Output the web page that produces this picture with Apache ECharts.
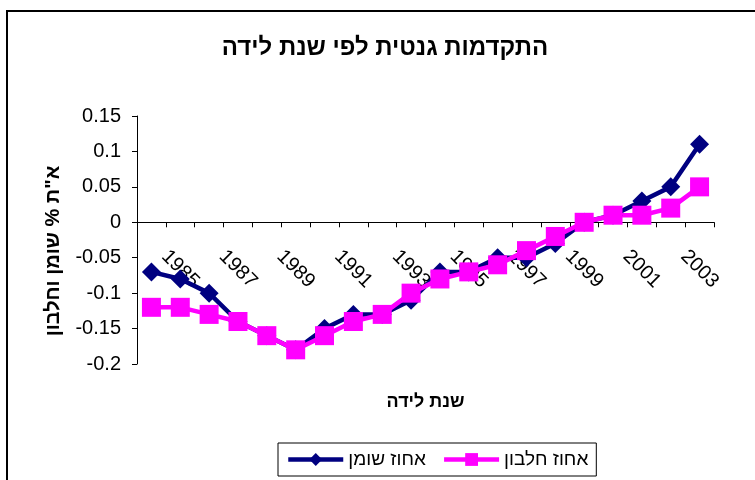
<!DOCTYPE html>
<html>
<head>
<meta charset="utf-8">
<script src="https://cdn.jsdelivr.net/npm/echarts@6/dist/echarts.min.js"></script>
<style>
html,body{margin:0;padding:0;background:#fff;}
#c{width:755px;height:480px;}
</style>
</head>
<body>
<div id="c"></div>
<script>
const years = ['1984','1985','1986','1987','1988','1989','1990','1991','1992','1993','1994','1995','1996','1997','1998','1999','2000','2001','2002','2003'];
const fatValues = [-0.07,-0.08,-0.10,-0.14,-0.16,-0.18,-0.15,-0.13,-0.13,-0.11,-0.07,-0.07,-0.05,-0.05,-0.03,0.00,0.01,0.03,0.05,0.11];
const proteinValues = [-0.12,-0.12,-0.13,-0.14,-0.16,-0.18,-0.16,-0.14,-0.13,-0.10,-0.08,-0.07,-0.06,-0.04,-0.02,0.00,0.01,0.01,0.02,0.05];
const seriesNames = ['אחוז שומן','אחוז חלבון'];
const titleText = 'התקדמות גנטית לפי שנת לידה';
const xTitle = 'שנת לידה';
const yTitle = 'א"ת % שומן וחלבון';

const font = '"Liberation Sans", Arial, sans-serif';
const chart = echarts.init(document.getElementById('c'), null, {renderer:'canvas'});
chart.setOption({
  backgroundColor:'#fff',
  animation:false,
  graphic:[{type:'rect', shape:{x:7, y:11, width:800, height:520}, style:{fill:'none', stroke:'#000', lineWidth:2}, silent:true}],
  title:{text:titleText, left:380, textAlign:'center', top:31, textStyle:{fontFamily:font, fontSize:24, fontWeight:'bold', color:'#000'}},
  grid:{left:137, right:41, top:116, bottom:116, containLabel:false, outerBoundsMode:'none'},
  legend:{
    data:seriesNames, left:278, top:443, orient:'horizontal',
    borderColor:'#000', borderWidth:1, padding:[7,8], itemGap:16,
    itemWidth:55, itemHeight:16,
    lineStyle:{width:4.5},
    textStyle:{fontFamily:font, fontSize:19, color:'#000'}
  },
  xAxis:{
    type:'category', data:years, boundaryGap:true,
    name:xTitle, nameLocation:'middle', nameGap:29,
    nameTextStyle:{fontFamily:font, fontSize:18, fontWeight:'bold', color:'#000'},
    axisLine:{onZero:true, lineStyle:{color:'#000', width:1}},
    axisTick:{show:true, interval:0, length:5, lineStyle:{color:'#000'}},
    axisLabel:{interval:function(i){return i%2===1;}, rotate:-45, align:'center', verticalAlign:'middle', margin:-95,
      fontFamily:font, fontSize:20, color:'#000'},
    splitLine:{show:false}
  },
  yAxis:{
    type:'value', min:-0.2, max:0.15, interval:0.05,
    name:yTitle, nameLocation:'middle', nameGap:74, nameRotate:90,
    nameTextStyle:{fontFamily:font, fontSize:20, fontWeight:'bold', color:'#000', padding:[0,22,0,0]},
    axisLine:{show:true, lineStyle:{color:'#000', width:1}},
    axisTick:{show:true, length:5, lineStyle:{color:'#000'}},
    axisLabel:{margin:16, fontFamily:font, fontSize:20, color:'#000',
      formatter:function(v){return String(parseFloat(v.toFixed(2)));}},
    splitLine:{show:false}
  },
  series:[
    {name:seriesNames[0], type:'line', data:fatValues, symbol:'diamond', symbolSize:19,
      lineStyle:{color:'#000080', width:4.5}, itemStyle:{color:'#000080'}},
    {name:seriesNames[1], type:'line', data:proteinValues, symbol:'rect', symbolSize:19,
      lineStyle:{color:'#FF00FF', width:4.5}, itemStyle:{color:'#FF00FF'}}
  ]
});
</script>
</body>
</html>
